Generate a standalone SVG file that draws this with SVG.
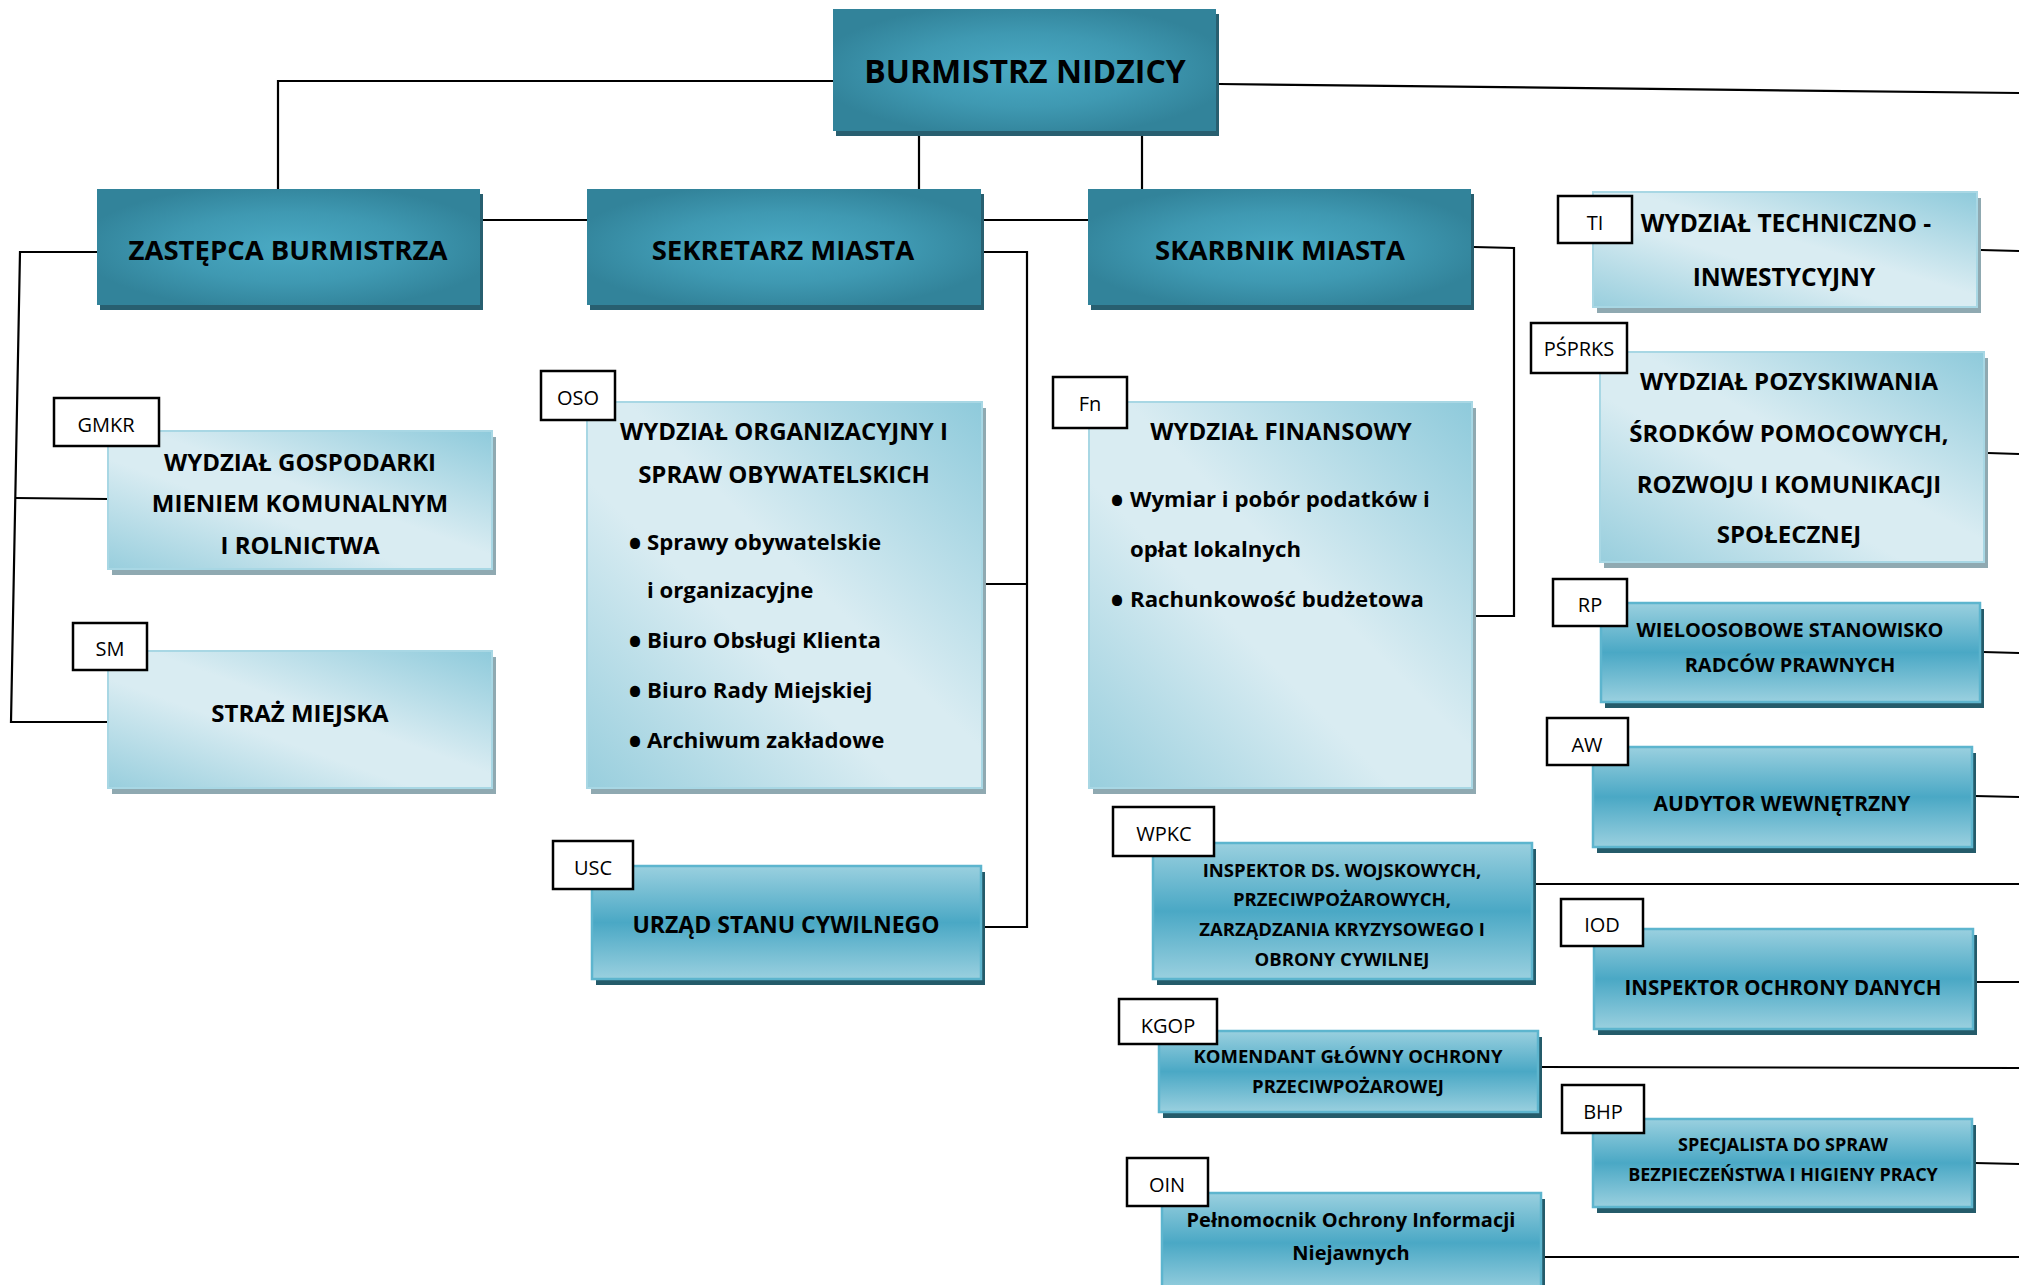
<svg xmlns="http://www.w3.org/2000/svg" width="2019" height="1285" viewBox="0 0 2019 1285">
<defs>
  <radialGradient id="gDark" cx="0.5" cy="0.5" r="0.55">
    <stop offset="0" stop-color="#4aaac4"/>
    <stop offset="0.55" stop-color="#3f99b2"/>
    <stop offset="1" stop-color="#32839a"/>
  </radialGradient>
  <linearGradient id="gLight" x1="1" y1="0" x2="0" y2="1">
    <stop offset="0" stop-color="#8ecadb"/>
    <stop offset="0.45" stop-color="#d9ecf2"/>
    <stop offset="0.6" stop-color="#d9ecf2"/>
    <stop offset="1" stop-color="#98cedd"/>
  </linearGradient>
  <linearGradient id="gMid" x1="0" y1="0" x2="0" y2="1">
    <stop offset="0" stop-color="#9ad0df"/>
    <stop offset="0.5" stop-color="#4aa8c5"/>
    <stop offset="1" stop-color="#9ad0df"/>
  </linearGradient>
</defs>
<style>
  .dark { fill: url(#gDark); }
  .darkSh { fill: #285f70; }
  .light { fill: url(#gLight); stroke: #a8d7e4; stroke-width: 2; }
  .lightSh { fill: #8fa9b1; }
  .mid { fill: url(#gMid); stroke: #5db5ce; stroke-width: 2.5; }
  .midSh { fill: #245b6a; }
  .lbl { fill: #ffffff; stroke: #000000; stroke-width: 2.5; }
  .lt { font-family: "Open Sans", "Liberation Sans", sans-serif; font-size: 20px; fill: #000; text-anchor: middle; }
  .t { font-family: "Open Sans", "Liberation Sans", sans-serif; font-weight: 700; fill: #000; text-anchor: middle; }
  .b { font-family: "Open Sans", "Liberation Sans", sans-serif; font-weight: 700; fill: #000; font-size: 22.2px; }
  .dot { font-family: "Open Sans", "Liberation Sans", sans-serif; font-weight: 700; fill: #000; font-size: 36px; text-anchor: middle; }
  .conn { fill: none; stroke: #000; stroke-width: 2.2; }
</style>
<rect x="0" y="0" width="2019" height="1285" fill="#ffffff"/>

<g id="connectors">
  <polyline class="conn" points="833,81 278,81 278,189"/>
  <line class="conn" x1="919" y1="131" x2="919" y2="189"/>
  <line class="conn" x1="1142" y1="136" x2="1142" y2="189"/>
  <line class="conn" x1="1219" y1="84" x2="2019" y2="93"/>
  <line class="conn" x1="483" y1="220" x2="587" y2="220"/>
  <line class="conn" x1="983" y1="220" x2="1088" y2="220"/>
  <polyline class="conn" points="97,252 20,252 11,722 108,722"/>
  <line class="conn" x1="16" y1="498" x2="108" y2="499"/>
  <polyline class="conn" points="983,252 1027,252 1027,927 985,927"/>
  <line class="conn" x1="986" y1="584" x2="1027" y2="584"/>
  <polyline class="conn" points="1474,247 1514,248 1514,616 1476,616"/>
  <line class="conn" x1="1981" y1="250" x2="2019" y2="251"/>
  <line class="conn" x1="1988" y1="453" x2="2019" y2="454"/>
  <line class="conn" x1="1983" y1="652" x2="2019" y2="653"/>
  <line class="conn" x1="1975" y1="796" x2="2019" y2="797"/>
  <line class="conn" x1="1535" y1="884" x2="2019" y2="884"/>
  <line class="conn" x1="1977" y1="982" x2="2019" y2="982"/>
  <line class="conn" x1="1541" y1="1067" x2="2019" y2="1068"/>
  <line class="conn" x1="1975" y1="1163" x2="2019" y2="1164"/>
  <line class="conn" x1="1545" y1="1257" x2="2019" y2="1257"/>
</g>

<g id="burmistrz">
  <rect class="darkSh" x="836" y="14" width="383" height="122"/>
  <rect class="dark" x="833" y="9" width="383" height="122"/>
  <text class="t" x="1025" y="83" font-size="32">BURMISTRZ NIDZICY</text>
</g>
<g id="zastepca">
  <rect class="darkSh" x="100" y="194" width="383" height="116"/>
  <rect class="dark" x="97" y="189" width="383" height="116"/>
  <text class="t" x="288" y="260" font-size="27.5">ZASTĘPCA BURMISTRZA</text>
</g>
<g id="sekretarz">
  <rect class="darkSh" x="590" y="194" width="394" height="116"/>
  <rect class="dark" x="587" y="189" width="394" height="116"/>
  <text class="t" x="783" y="260" font-size="27.5">SEKRETARZ MIASTA</text>
</g>
<g id="skarbnik">
  <rect class="darkSh" x="1091" y="194" width="383" height="116"/>
  <rect class="dark" x="1088" y="189" width="383" height="116"/>
  <text class="t" x="1280" y="260" font-size="27.5">SKARBNIK MIASTA</text>
</g>

<g id="gmkr">
  <rect class="lightSh" x="112" y="437" width="384" height="138"/>
  <rect class="light" x="108" y="431" width="384" height="138"/>
  <rect class="lbl" x="54" y="398" width="105" height="48"/>
  <text class="lt" x="106" y="432">GMKR</text>
  <text class="t" x="300" y="471" font-size="24">WYDZIAŁ GOSPODARKI</text>
  <text class="t" x="300" y="512" font-size="24">MIENIEM KOMUNALNYM</text>
  <text class="t" x="300" y="554" font-size="24">I ROLNICTWA</text>
</g>
<g id="sm">
  <rect class="lightSh" x="112" y="657" width="384" height="137"/>
  <rect class="light" x="108" y="651" width="384" height="137"/>
  <rect class="lbl" x="73" y="623" width="74" height="47"/>
  <text class="lt" x="110" y="656">SM</text>
  <text class="t" x="300" y="722" font-size="24">STRAŻ MIEJSKA</text>
</g>
<g id="oso">
  <rect class="lightSh" x="591" y="408" width="395" height="386"/>
  <rect class="light" x="587" y="402" width="395" height="386"/>
  <rect class="lbl" x="541" y="371" width="74" height="49"/>
  <text class="lt" x="578" y="405">OSO</text>
  <text class="t" x="784" y="440" font-size="24">WYDZIAŁ ORGANIZACYJNY I</text>
  <text class="t" x="784" y="483" font-size="24">SPRAW OBYWATELSKICH</text>
  <text class="dot" x="635" y="557">•</text>
  <text class="b" x="647" y="550">Sprawy obywatelskie</text>
  <text class="b" x="647" y="598">i organizacyjne</text>
  <text class="dot" x="635" y="655">•</text>
  <text class="b" x="647" y="648">Biuro Obsługi Klienta</text>
  <text class="dot" x="635" y="705">•</text>
  <text class="b" x="647" y="698">Biuro Rady Miejskiej</text>
  <text class="dot" x="635" y="755">•</text>
  <text class="b" x="647" y="748">Archiwum zakładowe</text>
</g>
<g id="fn">
  <rect class="lightSh" x="1093" y="408" width="383" height="386"/>
  <rect class="light" x="1089" y="402" width="383" height="386"/>
  <rect class="lbl" x="1053" y="377" width="74" height="51"/>
  <text class="lt" x="1090" y="411">Fn</text>
  <text class="t" x="1281" y="440" font-size="24">WYDZIAŁ FINANSOWY</text>
  <text class="dot" x="1117" y="514">•</text>
  <text class="b" x="1130" y="507">Wymiar i pobór podatków i</text>
  <text class="b" x="1130" y="557">opłat lokalnych</text>
  <text class="dot" x="1117" y="614">•</text>
  <text class="b" x="1130" y="607">Rachunkowość budżetowa</text>
</g>
<g id="ti">
  <rect class="lightSh" x="1597" y="198" width="384" height="115"/>
  <rect class="light" x="1593" y="192" width="384" height="115"/>
  <rect class="lbl" x="1558" y="196" width="74" height="47"/>
  <text class="lt" x="1595" y="230">TI</text>
  <text class="t" x="1786" y="232" font-size="24.5">WYDZIAŁ TECHNICZNO -</text>
  <text class="t" x="1784" y="286" font-size="24.5">INWESTYCYJNY</text>
</g>
<g id="psprks">
  <rect class="lightSh" x="1604" y="358" width="384" height="210"/>
  <rect class="light" x="1600" y="352" width="384" height="210"/>
  <rect class="lbl" x="1531" y="323" width="96" height="50"/>
  <text class="lt" x="1579" y="356">PŚPRKS</text>
  <text class="t" x="1789" y="390" font-size="24">WYDZIAŁ POZYSKIWANIA</text>
  <text class="t" x="1789" y="442" font-size="24">ŚRODKÓW POMOCOWYCH,</text>
  <text class="t" x="1789" y="493" font-size="24">ROZWOJU I KOMUNIKACJI</text>
  <text class="t" x="1789" y="543" font-size="24">SPOŁECZNEJ</text>
</g>
<g id="rp">
  <rect class="midSh" x="1605" y="609" width="379" height="99"/>
  <rect class="mid" x="1601" y="603" width="379" height="99"/>
  <rect class="lbl" x="1553" y="579" width="74" height="47"/>
  <text class="lt" x="1590" y="612">RP</text>
  <text class="t" x="1790" y="637" font-size="20">WIELOOSOBOWE STANOWISKO</text>
  <text class="t" x="1790" y="672" font-size="20">RADCÓW PRAWNYCH</text>
</g>
<g id="aw">
  <rect class="midSh" x="1597" y="753" width="379" height="100"/>
  <rect class="mid" x="1593" y="747" width="379" height="100"/>
  <rect class="lbl" x="1547" y="718" width="81" height="47"/>
  <text class="lt" x="1587" y="752">AW</text>
  <text class="t" x="1782" y="811" font-size="21">AUDYTOR WEWNĘTRZNY</text>
</g>
<g id="iod">
  <rect class="midSh" x="1598" y="935" width="379" height="100"/>
  <rect class="mid" x="1594" y="929" width="379" height="100"/>
  <rect class="lbl" x="1561" y="899" width="82" height="47"/>
  <text class="lt" x="1602" y="932">IOD</text>
  <text class="t" x="1783" y="995" font-size="20.5">INSPEKTOR OCHRONY DANYCH</text>
</g>
<g id="bhp">
  <rect class="midSh" x="1597" y="1125" width="379" height="88"/>
  <rect class="mid" x="1593" y="1119" width="379" height="88"/>
  <rect class="lbl" x="1562" y="1085" width="82" height="48"/>
  <text class="lt" x="1603" y="1119">BHP</text>
  <text class="t" x="1783" y="1151" font-size="18">SPECJALISTA DO SPRAW</text>
  <text class="t" x="1783" y="1181" font-size="18">BEZPIECZEŃSTWA I HIGIENY PRACY</text>
</g>
<g id="usc">
  <rect class="midSh" x="596" y="872" width="389" height="113"/>
  <rect class="mid" x="592" y="866" width="389" height="113"/>
  <rect class="lbl" x="553" y="841" width="80" height="48"/>
  <text class="lt" x="593" y="875">USC</text>
  <text class="t" x="786" y="933" font-size="23">URZĄD STANU CYWILNEGO</text>
</g>
<g id="wpkc">
  <rect class="midSh" x="1157" y="849" width="379" height="136"/>
  <rect class="mid" x="1153" y="843" width="379" height="136"/>
  <rect class="lbl" x="1113" y="807" width="101" height="49"/>
  <text class="lt" x="1164" y="841">WPKC</text>
  <text class="t" x="1342" y="877" font-size="18.5">INSPEKTOR DS. WOJSKOWYCH,</text>
  <text class="t" x="1342" y="906" font-size="18.5">PRZECIWPOŻAROWYCH,</text>
  <text class="t" x="1342" y="936" font-size="18.5">ZARZĄDZANIA KRYZYSOWEGO I</text>
  <text class="t" x="1342" y="966" font-size="18.5">OBRONY CYWILNEJ</text>
</g>
<g id="kgop">
  <rect class="midSh" x="1163" y="1037" width="379" height="81"/>
  <rect class="mid" x="1159" y="1031" width="379" height="81"/>
  <rect class="lbl" x="1119" y="999" width="98" height="45"/>
  <text class="lt" x="1168" y="1033">KGOP</text>
  <text class="t" x="1348" y="1063" font-size="18.5">KOMENDANT GŁÓWNY OCHRONY</text>
  <text class="t" x="1348" y="1093" font-size="18.5">PRZECIWPOŻAROWEJ</text>
</g>
<g id="oin">
  <rect class="midSh" x="1166" y="1199" width="379" height="100"/>
  <rect class="mid" x="1162" y="1193" width="379" height="100"/>
  <rect class="lbl" x="1127" y="1158" width="81" height="48"/>
  <text class="lt" x="1167" y="1192">OIN</text>
  <text class="t" x="1351" y="1227" font-size="20">Pełnomocnik Ochrony Informacji</text>
  <text class="t" x="1351" y="1260" font-size="20">Niejawnych</text>
</g>
</svg>
